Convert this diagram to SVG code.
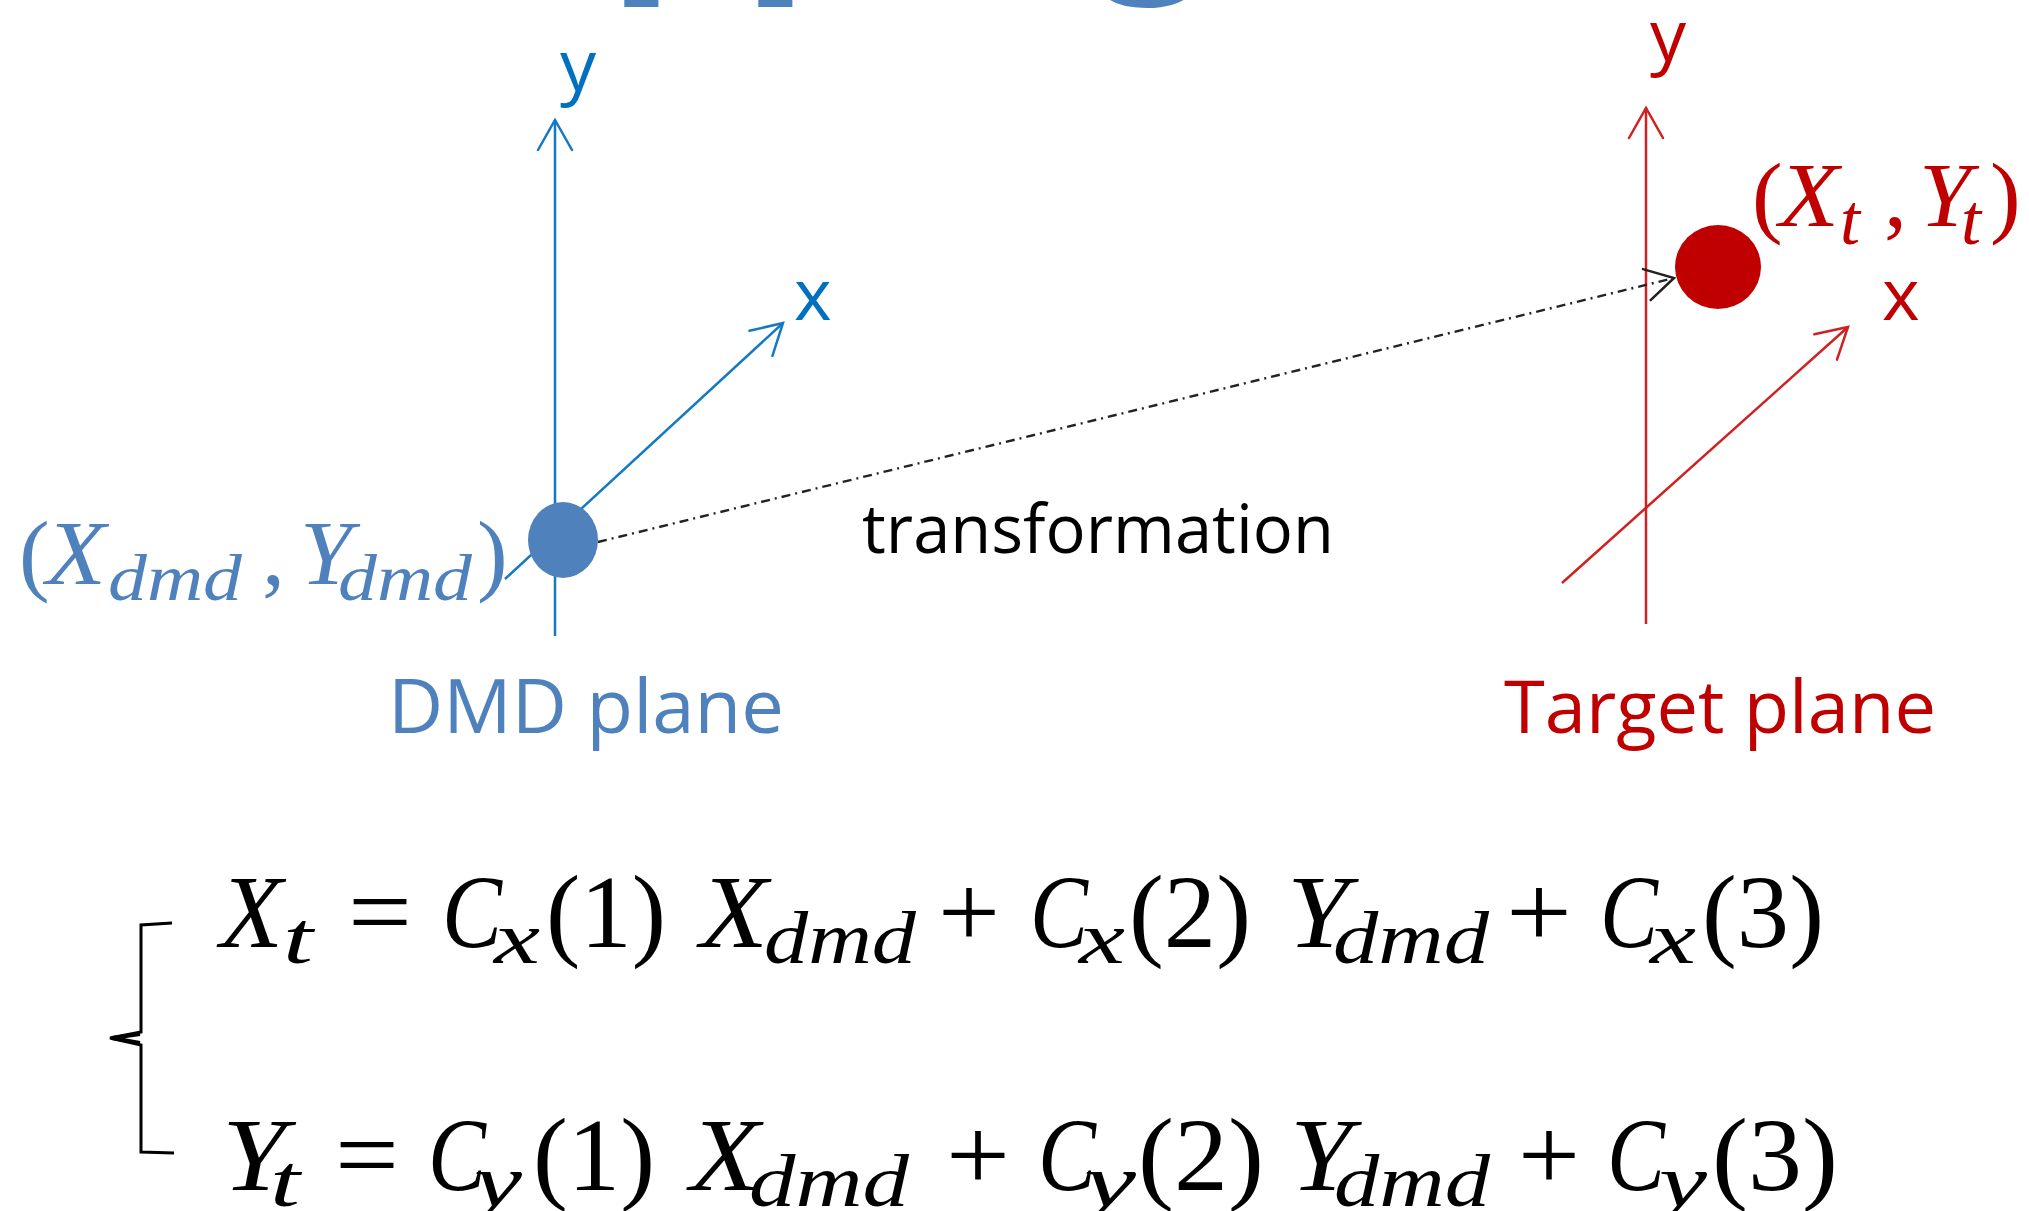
<svg xmlns="http://www.w3.org/2000/svg" width="2029" height="1211" viewBox="0 0 2029 1211">
<style>
.sans{font-family:"Open Sans","Liberation Sans",sans-serif}
.math{font-family:"Liberation Serif","DejaVu Serif",serif}
.it{font-style:italic}
.eq{font-size:103px;fill:#000}
.eqs{font-size:74px;fill:#000;font-style:italic}
.bl{fill:#4F81BD}
.rd{fill:#C00000}
.axb{stroke:#1479C4;stroke-width:2.5;fill:none}
.axr{stroke:#D02020;stroke-width:2.5;fill:none}
</style>
<defs>
<marker id="ab" markerUnits="userSpaceOnUse" orient="auto" overflow="visible" markerWidth="40" markerHeight="40">
<path d="M-30,-17 L0,0 L-30,17" fill="none" stroke="#1479C4" stroke-width="2.5" stroke-linecap="round"/>
</marker>
<marker id="ar" markerUnits="userSpaceOnUse" orient="auto" overflow="visible" markerWidth="40" markerHeight="40">
<path d="M-30,-17 L0,0 L-30,17" fill="none" stroke="#D02020" stroke-width="2.5" stroke-linecap="round"/>
</marker>
<marker id="ak" markerUnits="userSpaceOnUse" orient="auto" overflow="visible" markerWidth="40" markerHeight="40">
<path d="M-28,-16 L0,0 L-28,16" fill="none" stroke="#222" stroke-width="2.5" stroke-linecap="round"/>
</marker>
</defs>
<rect width="2029" height="1211" fill="#fff"/>

<g id="title-fragment" fill="#4F81BD" font-family="'Liberation Sans',sans-serif" font-weight="700" font-size="248">
<text x="607" y="-45">p</text>
<text x="741" y="-45">p</text>
<text x="1074" y="-45">g</text>
</g>

<g id="connectors">
<line id="dmd-y-axis" class="axb" x1="555" y1="636" x2="555" y2="120" marker-end="url(#ab)"/>
<line id="dmd-x-axis" class="axb" x1="505" y1="579" x2="783" y2="323" marker-end="url(#ab)"/>
<line id="target-y-axis" class="axr" x1="1646" y1="624" x2="1646" y2="108" marker-end="url(#ar)"/>
<line id="target-x-axis" class="axr" x1="1562" y1="583" x2="1848" y2="327" marker-end="url(#ar)"/>
<line id="transformation-arrow" x1="598" y1="542" x2="1674" y2="278" stroke="#222" stroke-width="2.4" stroke-dasharray="9 5 2 5" marker-end="url(#ak)"/>
</g>

<g id="dmd-point">
<ellipse cx="563" cy="540" rx="35" ry="38" fill="#4F81BD"/>
<text class="math bl" font-size="92" x="19" y="584">(</text>
<text class="math it bl" font-size="92" x="46" y="584" textLength="60" lengthAdjust="spacingAndGlyphs">X</text>
<text class="math it bl" font-size="66" x="108" y="600" textLength="134" lengthAdjust="spacingAndGlyphs">dmd</text>
<text class="math bl" font-size="92" x="262" y="584">,</text>
<text class="math it bl" font-size="92" x="300" y="584" textLength="52" lengthAdjust="spacingAndGlyphs">Y</text>
<text class="math it bl" font-size="66" x="338" y="600" textLength="134" lengthAdjust="spacingAndGlyphs">dmd</text>
<text class="math bl" font-size="92" x="477" y="584">)</text>
</g>

<g id="target-point">
<ellipse cx="1718" cy="267" rx="43" ry="42" fill="#C00000"/>
<text class="math rd" font-size="92" x="1752" y="226">(</text>
<text class="math it rd" font-size="92" x="1779" y="226" textLength="60" lengthAdjust="spacingAndGlyphs">X</text>
<text class="math it rd" font-size="72" x="1840" y="244">t</text>
<text class="math rd" font-size="92" x="1884" y="226">,</text>
<text class="math it rd" font-size="92" x="1919" y="226" textLength="52" lengthAdjust="spacingAndGlyphs">Y</text>
<text class="math it rd" font-size="72" x="1961" y="244">t</text>
<text class="math rd" font-size="92" x="1990" y="226">)</text>
</g>

<g id="dmd-labels">
<text class="sans" font-size="72" fill="#0070C0" x="560" y="91">y</text>
<text class="sans" font-size="72" fill="#0070C0" x="794" y="320">x</text>
<text class="sans bl" font-size="75" x="388" y="733" textLength="396" lengthAdjust="spacingAndGlyphs">DMD plane</text>
</g>

<g id="target-labels">
<text class="sans" font-size="72" fill="#C00000" x="1650" y="61">y</text>
<text class="sans" font-size="72" fill="#C00000" x="1882" y="320">x</text>
<text class="sans rd" font-size="74" x="1504" y="733" textLength="432" lengthAdjust="spacingAndGlyphs">Target plane</text>
</g>

<g id="transformation-label">
<text class="sans" font-size="67" fill="#000" x="862" y="553" textLength="472" lengthAdjust="spacingAndGlyphs">transformation</text>
</g>

<g id="equations">
<path d="M172,923 L141,925 L141,1032 L110,1038 L141,1045 L141,1152 L174,1153" fill="none" stroke="#000" stroke-width="3" stroke-linejoin="miter"/>
<path d="M112,1038 L140,1034 M112,1038 L140,1043" stroke="#000" stroke-width="4" fill="none"/>
<g class="math">
<text class="eq it" x="220" y="947">X</text>
<text class="eqs" x="283" y="963" textLength="30" lengthAdjust="spacingAndGlyphs">t</text>
<text class="eq" x="348" y="947" textLength="64" lengthAdjust="spacingAndGlyphs">=</text>
<text class="eq it" x="442" y="947" textLength="60" lengthAdjust="spacingAndGlyphs">C</text>
<text class="eqs" x="494" y="963" textLength="46" lengthAdjust="spacingAndGlyphs">x</text>
<text class="eq" x="546" y="947" textLength="120" lengthAdjust="spacingAndGlyphs">(1)</text>
<text class="eq it" x="700" y="947" textLength="68" lengthAdjust="spacingAndGlyphs">X</text>
<text class="eqs" x="764" y="963" textLength="152" lengthAdjust="spacingAndGlyphs">dmd</text>
<text class="eq" x="938" y="947" textLength="62" lengthAdjust="spacingAndGlyphs">+</text>
<text class="eq it" x="1030" y="947" textLength="58" lengthAdjust="spacingAndGlyphs">C</text>
<text class="eqs" x="1079" y="963" textLength="46" lengthAdjust="spacingAndGlyphs">x</text>
<text class="eq" x="1129" y="947" textLength="122" lengthAdjust="spacingAndGlyphs">(2)</text>
<text class="eq it" x="1287" y="947" textLength="62" lengthAdjust="spacingAndGlyphs">Y</text>
<text class="eqs" x="1333" y="963" textLength="156" lengthAdjust="spacingAndGlyphs">dmd</text>
<text class="eq" x="1506" y="947" textLength="66" lengthAdjust="spacingAndGlyphs">+</text>
<text class="eq it" x="1600" y="947" textLength="58" lengthAdjust="spacingAndGlyphs">C</text>
<text class="eqs" x="1650" y="963" textLength="46" lengthAdjust="spacingAndGlyphs">x</text>
<text class="eq" x="1702" y="947" textLength="122" lengthAdjust="spacingAndGlyphs">(3)</text>

<text class="eq it" x="222" y="1190" textLength="64" lengthAdjust="spacingAndGlyphs">Y</text>
<text class="eqs" x="270" y="1206" textLength="30" lengthAdjust="spacingAndGlyphs">t</text>
<text class="eq" x="335" y="1190" textLength="64" lengthAdjust="spacingAndGlyphs">=</text>
<text class="eq it" x="428" y="1190" textLength="58" lengthAdjust="spacingAndGlyphs">C</text>
<text class="eqs" x="474" y="1206" textLength="48" lengthAdjust="spacingAndGlyphs">y</text>
<text class="eq" x="533" y="1190" textLength="122" lengthAdjust="spacingAndGlyphs">(1)</text>
<text class="eq it" x="690" y="1190" textLength="70" lengthAdjust="spacingAndGlyphs">X</text>
<text class="eqs" x="749" y="1206" textLength="160" lengthAdjust="spacingAndGlyphs">dmd</text>
<text class="eq" x="946" y="1190" textLength="64" lengthAdjust="spacingAndGlyphs">+</text>
<text class="eq it" x="1038" y="1190" textLength="58" lengthAdjust="spacingAndGlyphs">C</text>
<text class="eqs" x="1084" y="1206" textLength="52" lengthAdjust="spacingAndGlyphs">y</text>
<text class="eq" x="1138" y="1190" textLength="126" lengthAdjust="spacingAndGlyphs">(2)</text>
<text class="eq it" x="1290" y="1190" textLength="62" lengthAdjust="spacingAndGlyphs">Y</text>
<text class="eqs" x="1334" y="1206" textLength="156" lengthAdjust="spacingAndGlyphs">dmd</text>
<text class="eq" x="1518" y="1190" textLength="62" lengthAdjust="spacingAndGlyphs">+</text>
<text class="eq it" x="1607" y="1190" textLength="58" lengthAdjust="spacingAndGlyphs">C</text>
<text class="eqs" x="1659" y="1206" textLength="48" lengthAdjust="spacingAndGlyphs">y</text>
<text class="eq" x="1712" y="1190" textLength="126" lengthAdjust="spacingAndGlyphs">(3)</text>
</g>
</g>
</svg>
